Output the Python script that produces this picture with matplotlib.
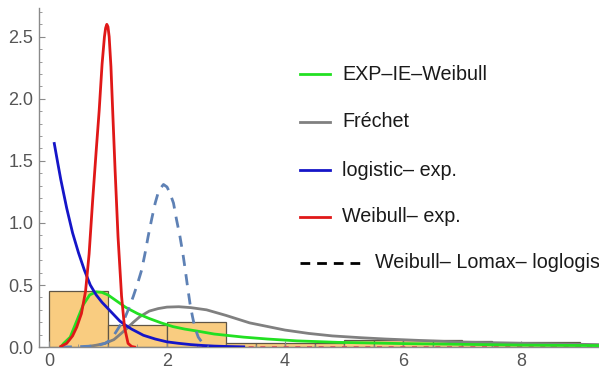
import numpy as np
import matplotlib.pyplot as plt
from matplotlib.lines import Line2D
from matplotlib.ticker import MultipleLocator

plt.rcParams['font.family'] = ['Liberation Sans', 'DejaVu Sans']

# histogram (bin left edge, width, density)
bin_left = [0, 1, 2, 3, 3.5, 4, 4.5, 5, 5.5, 6, 6.5, 7, 7.5, 8, 8.5]
bin_width = [1, 1, 1, 0.5, 0.5, 0.5, 0.5, 0.5, 0.5, 0.5, 0.5, 0.5, 0.5, 0.5, 0.5]
bin_height = [0.45, 0.18, 0.205, 0.035, 0.035, 0.035, 0.035, 0.06, 0.06,
              0.055, 0.055, 0.045, 0.04, 0.04, 0.04]

# fitted densities
green_x = [0.2, 0.25, 0.36, 0.47, 0.58, 0.69, 0.8, 0.9, 1.0, 1.15, 1.3, 1.5, 1.7,
           1.9, 2.1, 2.3, 2.56, 2.8, 3.0, 3.3, 3.7, 4.2, 4.9, 6.0, 7.0, 8.0, 9.3]
green_y = [0.0, 0.03, 0.08, 0.21, 0.34, 0.42, 0.445, 0.44, 0.42, 0.37, 0.32, 0.27,
           0.23, 0.195, 0.165, 0.145, 0.125, 0.105, 0.095, 0.08, 0.065, 0.05, 0.038,
           0.028, 0.022, 0.016, 0.012]

gray_x = [0.6, 0.8, 0.95, 1.1, 1.2, 1.32, 1.43, 1.54, 1.7, 1.85, 2.0, 2.2, 2.4, 2.67,
          3.0, 3.4, 4.0, 4.4, 4.8, 5.3, 5.7, 6.2, 7.0, 8.0, 9.3]
gray_y = [0.0, 0.015, 0.03, 0.06, 0.1, 0.15, 0.2, 0.245, 0.29, 0.31, 0.322, 0.325,
          0.318, 0.3, 0.255, 0.195, 0.137, 0.11, 0.09, 0.075, 0.065, 0.055, 0.04,
          0.03, 0.02]

blue_x = [0.09, 0.15, 0.2, 0.3, 0.4, 0.5, 0.6, 0.7, 0.8, 0.9, 1.0, 1.1, 1.2, 1.3,
          1.4, 1.5, 1.6, 1.8, 2.0, 2.2, 2.4, 2.6, 2.8, 3.0, 3.3]
blue_y = [1.64, 1.48, 1.35, 1.12, 0.92, 0.76, 0.62, 0.5, 0.42, 0.36, 0.31, 0.26,
          0.21, 0.175, 0.145, 0.12, 0.095, 0.065, 0.042, 0.03, 0.02, 0.013, 0.008,
          0.005, 0.002]

red_x = [0.2, 0.3, 0.4, 0.47, 0.55, 0.62, 0.68, 0.74, 0.8, 0.85, 0.9, 0.94, 0.96,
         0.98, 1.0, 1.02, 1.05, 1.08, 1.12, 1.17, 1.23, 1.28, 1.34, 1.4, 1.45]
red_y = [0.005, 0.03, 0.09, 0.16, 0.27, 0.45, 0.75, 1.18, 1.58, 1.9, 2.28, 2.5,
         2.57, 2.6, 2.58, 2.5, 2.26, 1.9, 1.43, 0.89, 0.41, 0.16, 0.03, 0.005, 0.0]

dash_x = [0.2, 0.5, 0.8, 0.95, 1.05, 1.12, 1.2, 1.29, 1.36, 1.43, 1.5, 1.57, 1.63,
          1.68, 1.74, 1.8, 1.86, 1.94, 2.0, 2.05, 2.11, 2.16, 2.22, 2.27, 2.31, 2.35,
          2.39, 2.43, 2.47, 2.53, 2.59, 2.65, 2.7]
dash_y = [0.0, 0.003, 0.01, 0.03, 0.06, 0.11, 0.17, 0.24, 0.32, 0.41, 0.51, 0.62,
          0.76, 0.89, 1.03, 1.16, 1.26, 1.31, 1.29, 1.24, 1.16, 1.03, 0.89, 0.75,
          0.62, 0.48, 0.35, 0.25, 0.16, 0.08, 0.04, 0.01, 0.0]

tail_x = [2.6, 9.3]
tail_y = [0.003, 0.003]

labels = ['EXP\u2013IE\u2013Weibull', 'Fréchet', 'logistic\u2013 exp.', 'Weibull\u2013 exp.',
          'Weibull\u2013 Lomax\u2013 loglogis']
colors = ['#22e022', '#808080', '#1515c8', '#e01818', '#000000']

fig = plt.figure(figsize=(5.99, 3.72), dpi=100)
ax = fig.add_axes([0.065, 0.067, 0.935, 0.911])

ax.bar(bin_left, bin_height, width=bin_width, align='edge',
       color='#f9cc80', edgecolor='#5f5546', linewidth=0.9, zorder=1)

ax.plot(tail_x, tail_y, color='#e04058', lw=1.2, ls=(0, (3, 4)), zorder=2)
ax.plot(gray_x, gray_y, color=colors[1], lw=2, zorder=3)
ax.plot(green_x, green_y, color=colors[0], lw=2, zorder=3)
ax.plot(blue_x, blue_y, color=colors[2], lw=2, zorder=3)
ax.plot(dash_x, dash_y, color='#5e81b5', lw=2, ls=(0, (4, 3)), zorder=3)
ax.plot(red_x, red_y, color=colors[3], lw=2, zorder=4)

ax.set_xlim(-0.17, 9.32)
ax.set_ylim(0, 2.73)

for s in ['top', 'right']:
    ax.spines[s].set_visible(False)
for s in ['left', 'bottom']:
    ax.spines[s].set_color('#8a8a8a')
    ax.spines[s].set_linewidth(1)

ax.xaxis.set_major_locator(MultipleLocator(2))
ax.xaxis.set_minor_locator(MultipleLocator(0.5))
ax.yaxis.set_major_locator(MultipleLocator(0.5))
ax.yaxis.set_minor_locator(MultipleLocator(0.1))
ax.yaxis.set_major_formatter(plt.FormatStrFormatter('%.1f'))
ax.tick_params(which='major', direction='in', length=4, color='#8a8a8a',
               labelsize=13, labelcolor='#555555', pad=4)
ax.tick_params(which='minor', direction='in', length=2.5, color='#8a8a8a')

# legend drawn by hand
ys = [74, 122, 170, 217, 263]
for i, lab in enumerate(labels):
    yf = 1 - ys[i] / 372
    if i < 4:
        fig.add_artist(Line2D([300 / 599, 330 / 599], [yf, yf], color=colors[i], lw=2,
                              transform=fig.transFigure))
        fig.text(342 / 599, yf, lab, fontsize=14.2, color='#1a1a1a', va='center')
    else:
        fig.add_artist(Line2D([300 / 599, 360 / 599], [yf, yf], color=colors[i], lw=2,
                              ls=(0, (3.5, 2.5)), transform=fig.transFigure))
        fig.text(375 / 599, yf, lab, fontsize=14.2, color='#1a1a1a', va='center')

fig.savefig('out.png', dpi=100)
